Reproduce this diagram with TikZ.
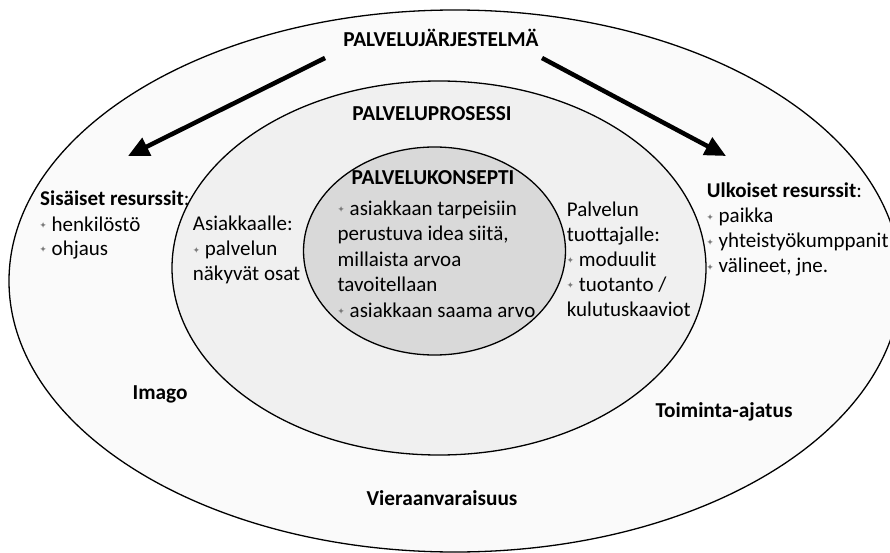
\documentclass[tikz,border=0pt]{standalone}
\usepackage{fontspec}
\setmainfont{Carlito}
\newfontfamily\symfont{DejaVu Sans}
\usetikzlibrary{arrows.meta}
\definecolor{outerfill}{HTML}{FAFAFA}
\definecolor{midfill}{HTML}{F0F0F0}
\definecolor{innerfill}{HTML}{D9D9D9}
\definecolor{bulletgray}{HTML}{7A7A7A}
% small grey star used as a list bullet
\newcommand\blt{\makebox[12pt][l]{\raisebox{2.2pt}{\symfont\fontsize{8.5}{8.5}\selectfont\color{bulletgray}✦}}}
\tikzset{
  txt/.style={inner sep=0pt, anchor=base west, font=\fontsize{21}{25}\selectfont},
  head/.style={inner sep=0pt, anchor=base, font=\fontsize{21.3}{25}\selectfont\bfseries},
  ring/.style={draw=black, line width=1.3pt},
  bigarrow/.style={line width=4.5pt, -{Triangle[length=21pt,width=19pt]}}
}
\begin{document}
\begin{tikzpicture}[x=1pt,y=-1pt]
\useasboundingbox (0,0) rectangle (890,553);
\begin{scope}
\clip (0,0) rectangle (890,553);
% three nested ellipses
\filldraw[ring, fill=outerfill] (455,281) ellipse [x radius=446, y radius=271];
\filldraw[ring, fill=midfill] (439,268) ellipse [x radius=267, y radius=187];
\filldraw[ring, fill=innerfill] (434.5,251) ellipse [x radius=131, y radius=104];
\end{scope}

% headings
\node[head] (jarj) at (441,46.7) {PALVELUJÄRJESTELMÄ};
\node[head] (pros) at (432,121) {PALVELUPROSESSI};
\node[head] (konc) at (433,185) {PALVELUKONSEPTI};

% arrows from the top heading to the resource lists
\coordinate (la0) at (325,58);
\coordinate (la1) at (128,156);
\coordinate (ra0) at (542,58);
\coordinate (ra1) at (726,156);
\draw[bigarrow] (la0) -- (la1);
\draw[bigarrow] (ra0) -- (ra1);

% inner ellipse text
\node[txt] (k1) at (337.5,215) {\blt asiakkaan tarpeisiin};
\node[txt] (k2) at (337.5,240.5) {perustuva idea siitä,};
\node[txt] (k3) at (337.5,266) {millaista arvoa};
\node[txt] (k4) at (337.5,291.5) {tavoitellaan};
\node[txt] (k5) at (337.5,317) {\blt asiakkaan saama arvo};

% middle ring, left side
\node[txt] (a1) at (192.7,230.7) {Asiakkaalle:};
\node[txt] (a2) at (192.7,255.5) {\blt palvelun};
\node[txt] (a3) at (192.7,280.5) {näkyvät osat};

% middle ring, right side
\node[txt] (p1) at (566.7,216) {Palvelun};
\node[txt] (p2) at (566.7,241) {tuottajalle:};
\node[txt] (p3) at (566.7,266) {\blt moduulit};
\node[txt] (p4) at (566.7,291) {\blt tuotanto /};
\node[txt] (p5) at (566.7,316) {kulutuskaaviot};

% outer ring, left resources
\node[txt] (s1) at (40,205.7) {\textbf{Sisäiset resurssit}:};
\node[txt] (s2) at (39.5,231) {\blt henkilöstö};
\node[txt] (s3) at (39.5,255) {\blt ohjaus};

% outer ring, right resources
\node[txt] (u1) at (706.7,197) {\textbf{Ulkoiset resurssit}:};
\node[txt] (u2) at (706.5,222.5) {\blt paikka};
\node[txt] (u3) at (706.5,247.5) {\blt yhteistyökumppanit};
\node[txt] (u4) at (706.5,272.5) {\blt välineet, jne.};

% outer ring keywords
\node[head] (imago) at (160,399) {Imago};
\node[head] (toim) at (724,417) {Toiminta-ajatus};
\node[head] (vier) at (442,505) {Vieraanvaraisuus};
\end{tikzpicture}
\end{document}
